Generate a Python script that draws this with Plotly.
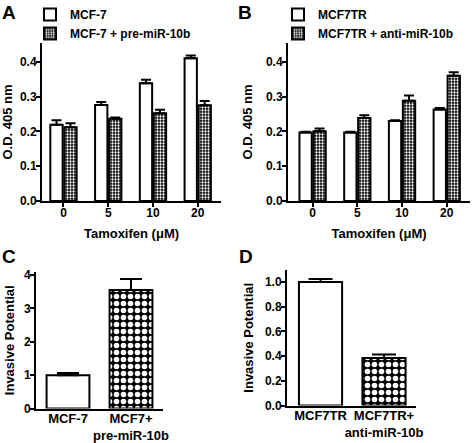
import plotly.graph_objects as go

# ---------------- data ----------------
tam_labels = ["0", "5", "10", "20"]

a_mcf7 = [0.219, 0.276, 0.338, 0.410]
a_mcf7_err = [0.013, 0.008, 0.010, 0.008]
a_pre = [0.212, 0.236, 0.252, 0.275]
a_pre_err = [0.011, 0.004, 0.010, 0.012]

b_tr = [0.197, 0.197, 0.230, 0.263]
b_tr_err = [0.002, 0.002, 0.002, 0.004]
b_anti = [0.200, 0.238, 0.288, 0.360]
b_anti_err = [0.008, 0.008, 0.015, 0.010]

c_cats = ["MCF-7", "MCF7+<br>pre-miR-10b"]
c_vals = [1.0, 3.55]
c_err = [0.06, 0.33]

d_cats = ["MCF7TR", "MCF7TR+<br>anti-miR-10b"]
d_vals = [1.0, 0.385]
d_err = [0.025, 0.028]

# ---------------- styling ----------------
FONT = "Liberation Sans, Arial, sans-serif"
W, H = 472, 443


def px_x(p):
    return p / W


def px_y(p):
    return 1 - p / H


def err(vals, w=5):
    return dict(type="data", array=vals, arrayminus=[0] * len(vals),
                symmetric=False, color="black", thickness=2, width=w)


def white_marker():
    return dict(color="white", line=dict(color="black", width=2))


def pattern_marker(size, solidity):
    return dict(color="black", line=dict(color="black", width=2),
                pattern=dict(shape=".", fgcolor="white", bgcolor="black", fgopacity=1,
                             size=size, solidity=solidity, fillmode="overlay"))


fig = go.Figure()

# Panel A
fig.add_trace(go.Bar(x=tam_labels, y=a_mcf7, name="MCF-7", marker=white_marker(),
                     error_y=err(a_mcf7_err), xaxis="x", yaxis="y", legend="legend"))
fig.add_trace(go.Bar(x=tam_labels, y=a_pre, name="MCF-7 + pre-miR-10b",
                     marker=pattern_marker(3, 0.45),
                     error_y=err(a_pre_err), xaxis="x", yaxis="y", legend="legend"))
# Panel B
fig.add_trace(go.Bar(x=tam_labels, y=b_tr, name="MCF7TR", marker=white_marker(),
                     error_y=err(b_tr_err), xaxis="x2", yaxis="y2", legend="legend2"))
fig.add_trace(go.Bar(x=tam_labels, y=b_anti, name="MCF7TR + anti-miR-10b",
                     marker=pattern_marker(3, 0.45),
                     error_y=err(b_anti_err), xaxis="x2", yaxis="y2", legend="legend2"))

# Panel C
fig.add_trace(go.Bar(x=c_cats, y=c_vals, width=0.68, showlegend=False,
                     marker=dict(color=["white", "black"], line=dict(color="black", width=2),
                                 pattern=dict(shape=["", "."], fgcolor="white", bgcolor="black",
                                              fgopacity=1, size=7, solidity=0.5,
                                              fillmode="overlay")),
                     error_y=err(c_err, 11), xaxis="x3", yaxis="y3"))
# Panel D
fig.add_trace(go.Bar(x=d_cats, y=d_vals, width=0.68, showlegend=False,
                     marker=dict(color=["white", "black"], line=dict(color="black", width=2),
                                 pattern=dict(shape=["", "."], fgcolor="white", bgcolor="black",
                                              fgopacity=1, size=7, solidity=0.5,
                                              fillmode="overlay")),
                     error_y=err(d_err, 12), xaxis="x4", yaxis="y4"))

tickfont = dict(family=FONT, size=12, color="black", weight="bold")
catfont = dict(family=FONT, size=13, color="black", weight="bold")
titlefont = dict(family=FONT, size=13, color="black", weight="bold")


def xax(dom, rng, anchor, title=None, ticks=True):
    d = dict(domain=dom, range=rng, anchor=anchor, showline=True, linecolor="black",
             linewidth=2, showgrid=False, zeroline=False, fixedrange=True,
             type="category", tickangle=0, automargin=False)
    if ticks:
        d.update(ticks="outside", ticklen=4, tickwidth=2, tickcolor="black",
                 tickfont=tickfont, ticklabelstandoff=-4)
    else:
        d.update(ticks="", tickfont=catfont, ticklabelstandoff=-3)
    if title:
        d["title"] = dict(text=title, font=titlefont, standoff=9)
    return d


def yax(dom, rng, anchor, dtick, fmt, title, standoff):
    return dict(domain=dom, range=rng, anchor=anchor, showline=True, linecolor="black",
                linewidth=2, ticks="outside", ticklen=4, tickwidth=2, tickcolor="black",
                tickfont=tickfont, showgrid=False, zeroline=False, dtick=dtick,
                tick0=0, tickformat=fmt, fixedrange=True, ticklabelstandoff=-3,
                automargin=False,
                title=dict(text=title, font=titlefont, standoff=standoff))


legfont = dict(family=FONT, size=12, color="black", weight="bold")

fig.update_layout(
    width=W, height=H, autosize=False,
    margin=dict(l=0, r=0, t=0, b=0, autoexpand=False),
    paper_bgcolor="white", plot_bgcolor="white",
    barmode="group", bargap=0.375, bargroupgap=0.12,
    font=dict(family=FONT, color="black"),
    xaxis=xax([px_x(42), px_x(221)], [-0.48, 3.52], "y", "Tamoxifen (μM)"),
    yaxis=yax([px_y(201), px_y(43)], [0, 0.4537], "x", 0.1, ".1f", "O.D. 405 nm", 6),
    xaxis2=xax([px_x(288), px_x(470)], [-0.55, 3.52], "y2", "Tamoxifen (μM)"),
    yaxis2=yax([px_y(201), px_y(43)], [0, 0.4537], "x2", 0.1, ".1f", "O.D. 405 nm", 10),
    xaxis3=xax([px_x(36), px_x(163)], [-0.508, 1.508], "y3", ticks=False),
    yaxis3=yax([px_y(408.5), px_y(272)], [0, 4.09], "x3", 1, "d", "Invasive Potential", 6),
    xaxis4=xax([px_x(287), px_x(416)], [-0.528, 1.504], "y4", ticks=False),
    yaxis4=yax([px_y(405.5), px_y(270)], [0, 1.097], "x4", 0.2, ".1f", "Invasive Potential", 8),
    legend=dict(x=px_x(30), y=1, xanchor="left", yanchor="top", font=legfont,
                bgcolor="rgba(0,0,0,0)", tracegroupgap=0, traceorder="normal",
                itemwidth=30),
    legend2=dict(x=px_x(278), y=1, xanchor="left", yanchor="top", font=legfont,
                 bgcolor="rgba(0,0,0,0)", tracegroupgap=0, traceorder="normal",
                 itemwidth=30),
    annotations=[
        dict(text=t, x=px_x(xp), y=px_y(yp), xref="paper", yref="paper",
             xanchor="left", yanchor="top", showarrow=False,
             font=dict(family=FONT, size=19, color="black", weight="bold"))
        for t, xp, yp in [("A", 0, 0), ("B", 236, 0), ("C", 0, 244), ("D", 237, 244)]
    ],
)

fig.write_html("out.html", config={"displayModeBar": False},
               post_script="document.body.style.margin='0px';")
